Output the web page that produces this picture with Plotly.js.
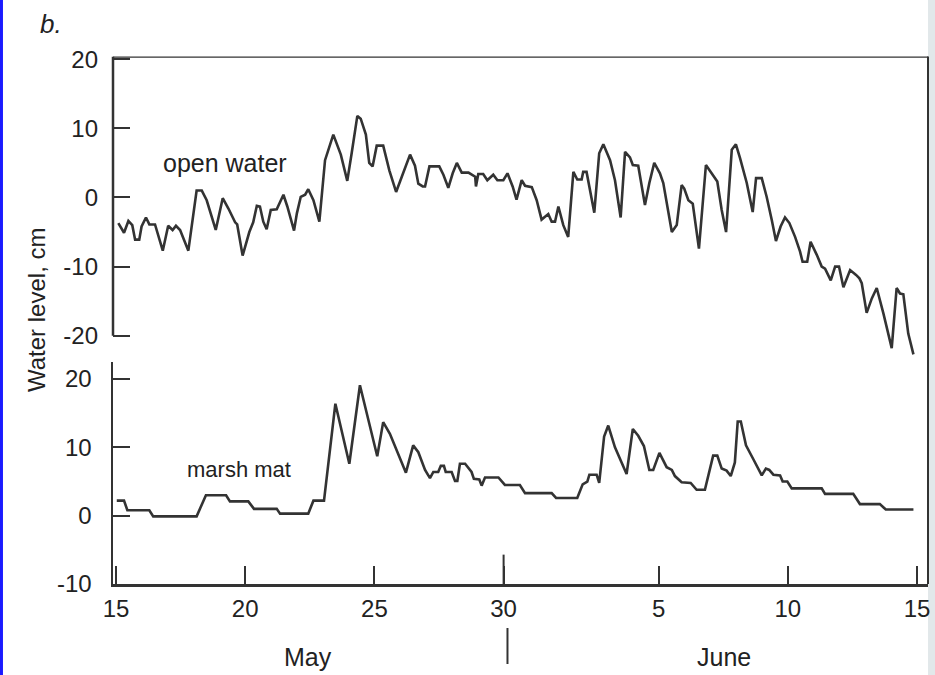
<!DOCTYPE html>
<html>
<head>
<meta charset="utf-8">
<script src="https://cdn.plot.ly/plotly-3.0.1.min.js"></script>
<style>html,body{margin:0;padding:0;background:#fff;}#chart{width:935px;height:675px;}</style>
</head>
<body>
<div id="chart"></div>
<script>
// Days counted from May 1 (June 1 = day 32)
const openWaterDay = [15.09,15.31,15.48,15.63,15.74,15.90,15.99,16.16,16.29,16.51,16.81,17.02,17.19,17.32,17.48,17.80,18.12,18.32,18.51,18.86,19.13,19.35,19.61,19.69,19.90,20.16,20.31,20.45,20.57,20.70,20.83,20.99,21.22,21.48,21.63,21.89,22.00,22.15,22.32,22.44,22.64,22.87,23.09,23.41,23.70,23.95,24.12,24.34,24.47,24.67,24.80,24.93,25.09,25.34,25.58,25.84,26.06,26.38,26.57,26.70,26.87,26.96,27.13,27.51,27.67,27.86,28.03,28.19,28.38,28.64,28.90,28.93,29.02,29.21,29.37,29.60,29.76,29.99,30.15,30.35,30.50,30.70,30.83,31.09,31.28,31.47,31.73,31.86,31.99,32.12,32.31,32.50,32.70,32.85,33.02,33.08,33.21,33.37,33.51,33.70,33.86,34.12,34.31,34.53,34.70,34.89,35.00,35.21,35.47,35.64,35.83,36.05,36.18,36.51,36.70,36.89,36.99,37.15,37.32,37.56,37.83,38.05,38.27,38.44,38.61,38.83,38.99,39.15,39.41,39.64,39.77,39.99,40.18,40.38,40.54,40.72,40.89,41.06,41.28,41.47,41.57,41.75,41.88,42.12,42.31,42.44,42.66,42.83,42.98,43.15,43.41,43.64,43.77,43.86,44.05,44.25,44.44,44.70,45.02,45.21,45.34,45.47,45.66,45.86];
const openWaterLevel = [-3.7,-5.1,-3.4,-4.0,-6.1,-6.1,-4.2,-2.9,-3.9,-3.9,-7.7,-4.1,-4.7,-4.1,-4.7,-7.7,1.0,1.0,-0.4,-4.7,-0.1,-1.6,-3.6,-3.9,-8.4,-5.0,-3.6,-1.2,-1.3,-3.5,-4.6,-1.8,-1.7,0.4,-1.3,-4.8,-2.3,0.1,0.4,1.2,-0.4,-3.5,5.4,9.1,6.2,2.4,6.4,11.8,11.4,9.1,5.0,4.5,7.5,7.5,3.9,0.8,3.0,6.2,4.6,2.0,1.6,1.6,4.5,4.5,3.3,1.4,3.5,5.0,3.6,3.6,3.0,1.6,3.4,3.4,2.5,3.3,2.5,2.5,3.5,1.6,-0.3,2.5,1.7,1.5,-0.4,-3.2,-2.4,-3.5,-3.5,-1.3,-4.0,-5.7,3.7,2.6,2.6,3.7,3.7,0.6,-2.2,6.4,7.7,5.4,2.5,-2.9,6.6,5.8,4.7,4.6,-1.1,2.1,5.0,3.5,2.1,-5.0,-4.0,1.8,1.3,-0.4,-0.9,-7.4,4.7,3.5,2.3,-1.8,-5.0,6.9,7.7,5.7,2.1,-2.1,2.8,2.8,0.1,-3.3,-6.3,-4.2,-2.9,-3.7,-5.7,-7.8,-9.3,-9.3,-6.4,-8.3,-10.0,-10.3,-12.0,-10.0,-10.0,-13.0,-10.5,-11.2,-11.7,-12.4,-16.7,-14.6,-13.1,-16.8,-21.8,-13.1,-13.9,-14.0,-19.7,-22.7];

const marshMatDay = [15.03,15.31,15.44,16.29,16.44,18.12,18.48,19.26,19.41,20.12,20.34,21.22,21.35,22.44,22.64,23.05,23.49,24.03,24.44,25.11,25.34,25.60,26.22,26.50,26.70,26.96,27.15,27.28,27.47,27.57,27.69,27.76,27.99,28.12,28.21,28.31,28.51,28.76,28.85,29.06,29.15,29.28,29.80,30.05,30.63,30.83,31.86,32.03,32.85,33.06,33.24,33.32,33.60,33.70,33.89,34.05,34.31,34.76,35.00,35.21,35.43,35.64,35.79,36.03,36.31,36.51,36.63,36.89,37.24,37.47,37.79,38.11,38.27,38.44,38.63,38.79,38.95,39.06,39.18,39.38,39.66,39.99,40.15,40.28,40.44,40.70,40.80,40.98,41.15,42.31,42.44,43.53,43.79,44.56,44.79,45.86];
const marshMatLevel = [2.2,2.2,0.8,0.8,-0.1,-0.1,3.0,3.0,2.1,2.1,1.0,1.0,0.3,0.3,2.2,2.2,16.4,7.6,19.1,8.7,13.7,12.0,6.3,10.3,9.3,6.7,5.5,6.4,6.4,7.3,7.3,6.4,6.4,5.1,5.1,7.6,7.6,6.4,5.4,5.3,4.4,5.6,5.6,4.5,4.5,3.3,3.3,2.6,2.6,4.6,5.0,6.0,6.0,4.8,11.6,13.2,10.0,6.1,12.7,11.7,10.2,6.7,6.7,9.2,7.1,6.7,5.8,4.9,4.8,3.8,3.8,8.8,8.8,6.9,6.6,5.8,7.8,13.8,13.8,10.3,8.3,5.9,6.9,6.7,6.0,5.9,5.0,5.0,4.0,4.0,3.2,3.2,1.7,1.7,0.9,0.9];

const xTickDays = [15,20,25,30,36,41,46];
const xTickLabels = ['15','20','25','30','5','10','15'];
const topTicks = [-20,-10,0,10,20];
const topTickLabels = ['-20','-10','0','10','20'];
const bottomTicks = [-10,0,10,20];
const bottomTickLabels = ['-10','0','10','20'];

const INK = '#333333';
const TXT = '#222222';
const FONT = '"Liberation Sans", Arial, Helvetica, sans-serif';

const topDomain = [0.4699, 0.9163];
const botDomain = [0.1348, 0.4637];

const traces = [
  {x: openWaterDay, y: openWaterLevel, xaxis: 'x', yaxis: 'y', mode: 'lines',
   line: {color: INK, width: 2.6}, hoverinfo: 'skip', showlegend: false},
  {x: marshMatDay, y: marshMatLevel, xaxis: 'x', yaxis: 'y2', mode: 'lines',
   line: {color: INK, width: 2.6}, hoverinfo: 'skip', showlegend: false}
];

const axisCommon = {showgrid: false, zeroline: false, ticks: 'inside', tickcolor: INK,
  tickwidth: 2, tickfont: {family: FONT, size: 24, color: TXT}};

function ann(text, xref, yref, x, y, size, extra) {
  return Object.assign({text: text, xref: xref, yref: yref, x: x, y: y, showarrow: false,
    xanchor: 'center', yanchor: 'middle', font: {family: FONT, size: size, color: TXT}}, extra || {});
}

const layout = {
  width: 935, height: 675,
  margin: {l: 113, r: 7, t: 0, b: 0},
  paper_bgcolor: '#ffffff', plot_bgcolor: 'rgba(0,0,0,0)',
  showlegend: false,
  xaxis: Object.assign({}, axisCommon, {
    domain: [0, 1], range: [14.884, 46.424], anchor: 'y2',
    showline: true, linecolor: INK, linewidth: 2.5,
    tickmode: 'array', tickvals: xTickDays, ticktext: xTickLabels,
    ticklen: 18, ticklabelstandoff: 2
  }),
  yaxis: Object.assign({}, axisCommon, {
    domain: topDomain, range: [-23.2, 20.4], anchor: 'x',
    showline: false, tickmode: 'array', tickvals: topTicks, ticktext: topTickLabels,
    ticklen: 17, ticklabelstandoff: 14
  }),
  yaxis2: Object.assign({}, axisCommon, {
    domain: botDomain, range: [-10, 22.5], anchor: 'x',
    showline: true, linecolor: INK, linewidth: 2.5,
    tickmode: 'array', tickvals: bottomTicks, ticktext: bottomTickLabels,
    ticklen: 17, ticklabelstandoff: 14
  }),
  shapes: [
    {type: 'rect', layer: 'below', xref: 'paper', yref: 'paper', x0: -0.1387, x1: -0.1350, y0: 0, y1: 1,
     fillcolor: '#1a1aff', line: {width: 0}},
    {type: 'rect', layer: 'below', xref: 'paper', yref: 'paper', x0: 1.0, x1: 1.01, y0: 0, y1: 1,
     fillcolor: '#e2e8ea', line: {width: 0}},
    {type: 'line', xref: 'paper', yref: 'y', x0: 0, x1: 0, y0: -20, y1: 20.4,
     line: {color: INK, width: 2.5}},
    {type: 'line', xref: 'paper', yref: 'y', x0: 0, x1: 1, y0: 20.4, y1: 20.4,
     line: {color: INK, width: 2.5}},
    {type: 'line', xref: 'paper', yref: 'paper', x0: 1, x1: 1, y0: botDomain[0], y1: topDomain[1],
     line: {color: INK, width: 2}},
    {type: 'line', xref: 'x', yref: 'y2', x0: 30, x1: 30, y0: -10, y1: -5.7,
     line: {color: INK, width: 2}},
    {type: 'line', xref: 'x', yref: 'paper', x0: 30.15, x1: 30.15, y0: 0.0163, y1: 0.0696,
     line: {color: INK, width: 2}}
  ],
  annotations: [
    ann('open water', 'x', 'y', 19.2, 5.0, 25),
    ann('marsh mat', 'x', 'y2', 19.76, 6.7, 22),
    ann('May', 'x', 'paper', 22.43, 0.0267, 25),
    ann('June', 'x', 'paper', 38.53, 0.0267, 25),
    ann('<i>b.</i>', 'paper', 'paper', -0.076, 0.9644, 26),
    ann('Water level, cm', 'paper', 'paper', -0.0945, 0.5407, 24, {textangle: -90})
  ]
};

Plotly.newPlot('chart', traces, layout, {staticPlot: true, displayModeBar: false});
</script>
</body>
</html>
